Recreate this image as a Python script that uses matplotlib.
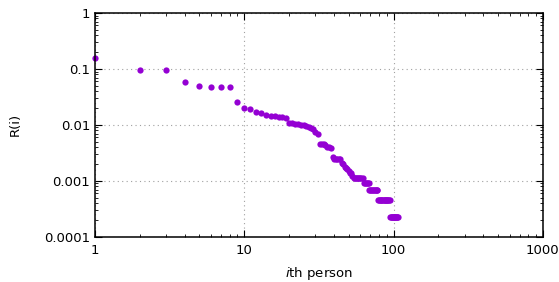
import numpy as np
import matplotlib
matplotlib.use("Agg")
import matplotlib.pyplot as plt
from matplotlib.ticker import FixedLocator, FixedFormatter, LogLocator, NullFormatter

# R(i) for ranks 1..107
r_top = [0.16, 0.097, 0.094, 0.059, 0.050, 0.048, 0.048, 0.048, 0.026, 0.020,
         0.019, 0.017, 0.016, 0.015, 0.0145, 0.0145, 0.014, 0.0137, 0.0133, 0.011,
         0.0108, 0.0105, 0.0103, 0.0101, 0.0099, 0.0096, 0.0093, 0.0089, 0.0083, 0.0075,
         0.0068, 0.0046, 0.0046, 0.0045, 0.0043, 0.0041, 0.0040, 0.0038, 0.0027, 0.0025,
         0.0025, 0.0025, 0.0025, 0.0025, 0.0021, 0.0020, 0.0018, 0.0017, 0.0016, 0.0015,
         0.0014, 0.0014, 0.0012]
r_tail = ([0.00115] * 9 + [0.00092] * 6 + [0.00069] * 10
          + [0.00046] * 16 + [0.00023] * 13)
ranks = np.arange(1, len(r_top) + len(r_tail) + 1)
values = r_top + r_tail

xticks = [1, 10, 100, 1000]
xlabels = ["1", "10", "100", "1000"]
yticks = [0.0001, 0.001, 0.01, 0.1, 1]
ylabels = ["0.0001", "0.001", "0.01", "0.1", "1"]

fig = plt.figure(figsize=(5.59, 2.82), dpi=100)
ax = fig.add_axes([0.170, 0.160, 0.801, 0.794])

ax.plot(ranks, values, "o", color="#9400D3", markersize=4.5, markeredgewidth=0, clip_on=False)

ax.set_xscale("log")
ax.set_yscale("log")
ax.set_xlim(1, 1000)
ax.set_ylim(0.0001, 1)

ax.xaxis.set_major_locator(FixedLocator(xticks))
ax.xaxis.set_major_formatter(FixedFormatter(xlabels))
ax.yaxis.set_major_locator(FixedLocator(yticks))
ax.yaxis.set_major_formatter(FixedFormatter(ylabels))
ax.xaxis.set_minor_locator(LogLocator(base=10, subs=np.arange(2, 10), numticks=20))
ax.yaxis.set_minor_locator(LogLocator(base=10, subs=np.arange(2, 10), numticks=20))
ax.xaxis.set_minor_formatter(NullFormatter())
ax.yaxis.set_minor_formatter(NullFormatter())

ax.tick_params(which="both", direction="in", top=True, right=True, labelsize=9.5, color="black")
ax.tick_params(which="major", length=5, width=0.8)
ax.tick_params(which="minor", length=2.5, width=0.6)
ax.tick_params(axis="x", pad=5)

ax.grid(True, which="major", linestyle=(0, (1, 3)), color="#a0a0a0", linewidth=0.8)
for s in ax.spines.values():
    s.set_linewidth(1.1)

ax.set_xlabel("$i$th person", fontsize=9.5, labelpad=6)
ax.set_ylabel("R(i)", fontsize=9.5, labelpad=16)

fig.savefig("out.png", dpi=100)
